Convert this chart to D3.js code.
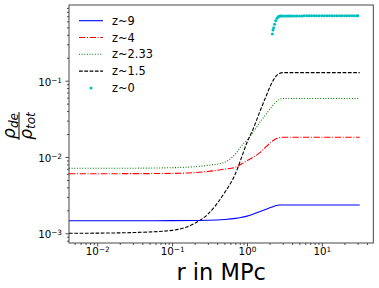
<!DOCTYPE html>
<html><head><meta charset="utf-8">
<script src="https://cdn.jsdelivr.net/npm/d3@7"></script>
<style>body{margin:0;background:#fff} svg{display:block}</style>
</head><body><svg id="c" width="379" height="288"></svg>
<script>
// ---- data ----
const rGrid   = [0.0042, 0.01, 0.03, 0.1, 0.2, 0.3, 0.5, 0.7, 0.85, 1.0, 1.2, 1.5, 1.8, 2.1, 2.4, 2.7, 3.0, 5, 10, 20, 32];
const rhoZ9   = [1.462e-3, 1.462e-3, 1.462e-3, 1.466e-3, 1.472e-3, 1.479e-3, 1.514e-3, 1.567e-3, 1.622e-3, 1.679e-3, 1.778e-3, 1.928e-3, 2.065e-3, 2.188e-3, 2.291e-3, 2.344e-3, 2.35e-3, 2.35e-3, 2.35e-3, 2.35e-3, 2.35e-3];
const rhoZ4   = [6.04e-3, 6.04e-3, 6.05e-3, 6.10e-3, 6.24e-3, 6.46e-3, 6.92e-3, 7.33e-3, 8.13e-3, 8.91e-3, 9.89e-3, 1.148e-2, 1.365e-2, 1.567e-2, 1.718e-2, 1.795e-2, 1.811e-2, 1.811e-2, 1.811e-2, 1.811e-2, 1.811e-2];
const rhoZ233 = [7.11e-3, 7.11e-3, 7.13e-3, 7.24e-3, 7.46e-3, 7.76e-3, 8.51e-3, 1.096e-2, 1.413e-2, 1.660e-2, 2.089e-2, 2.884e-2, 3.631e-2, 4.467e-2, 5.188e-2, 5.689e-2, 5.848e-2, 5.848e-2, 5.848e-2, 5.848e-2, 5.848e-2];
const rhoZ15  = [1.0e-3, 1.005e-3, 1.023e-3, 1.091e-3, 1.349e-3, 1.778e-3, 3.388e-3, 6.026e-3, 1.0e-2, 1.549e-2, 2.291e-2, 4.036e-2, 6.266e-2, 8.954e-2, 0.1122, 0.1245, 0.1274, 0.1274, 0.1274, 0.1274, 0.1274];
const rZ0     = [2.183, 2.223, 2.270, 2.339, 2.415, 2.512, 2.600, 2.673, 2.773, 2.877,
                 3.0, 3.2, 3.4, 3.6, 3.8, 4.0, 4.3, 4.6, 5.0, 5.4, 5.8, 6.3, 6.8, 7.3, 7.9, 8.5, 9.2, 10, 10.8, 11.7,
                 12.6, 13.6, 14.7, 15.9, 17.2, 18.6, 20.1, 21.7, 23.4, 25.3, 27.3, 29.5, 30.2];
const rhoZ0   = [0.409, 0.461, 0.495, 0.548, 0.611, 0.658, 0.684, 0.698, 0.703, 0.706,
                 0.707, 0.707, 0.707, 0.707, 0.707, 0.707, 0.707, 0.707, 0.707, 0.707,
                 0.709, 0.709, 0.709, 0.709, 0.709, 0.709, 0.709, 0.709, 0.709, 0.709,
                 0.710, 0.710, 0.710, 0.710, 0.710, 0.710, 0.710, 0.710, 0.710, 0.710,
                 0.711, 0.711, 0.711];
const seriesLabels = ["z~9", "z~4", "z~2.33", "z~1.5", "z~0"];
const xTicks = [1e-2, 1e-1, 1e0, 1e1];
const xTickExp = ["\u22122", "\u22121", "0", "1"];
const yTicks = [1e-3, 1e-2, 1e-1];
const yTickExp = ["\u22123", "\u22122", "\u22121"];
const xDomain = [0.0042, 48.6];
const yDomain = [7.46e-4, 0.982];

// ---- layout ----
const W = 379, H = 288;
const m = {l: 69, r: 5.7, t: 5, b: 45};
const svg = d3.select("#c");
const x = d3.scaleLog().domain(xDomain).range([m.l, W - m.r]);
const y = d3.scaleLog().domain(yDomain).range([H - m.b, m.t]);
const font = "DejaVu Sans";

svg.append("defs").append("clipPath").attr("id", "clip")
  .append("rect").attr("x", m.l).attr("y", m.t).attr("width", W - m.r - m.l).attr("height", H - m.b - m.t);

const styles = [
  {color: "#0000ff", dash: null, data: rhoZ9},
  {color: "#ff0000", dash: "6.4,1.6,1,1.6", data: rhoZ4},
  {color: "#008000", dash: "1,1.65", data: rhoZ233},
  {color: "#000000", dash: "3.7,1.6", data: rhoZ15}
];
const line = d3.line().x(d => x(d[0])).y(d => y(d[1])).curve(d3.curveMonotoneX);
const plot = svg.append("g").attr("clip-path", "url(#clip)");
styles.forEach(s => {
  plot.append("path").datum(rGrid.map((r, i) => [r, s.data[i]]))
    .attr("d", line).attr("fill", "none").attr("stroke", s.color)
    .attr("stroke-width", 1.1).attr("stroke-dasharray", s.dash);
});
plot.selectAll("circle.z0").data(rZ0.map((r, i) => [r, rhoZ0[i]])).enter()
  .append("circle").attr("class", "z0")
  .attr("cx", d => x(d[0])).attr("cy", d => y(d[1])).attr("r", 1.5).attr("fill", "#00bfbf");

// ---- axes ----
function minorTicks(domain) {
  const out = [];
  for (let e = -4; e <= 2; e++) for (let k = 2; k <= 9; k++) {
    const v = k * Math.pow(10, e);
    if (v >= domain[0] && v <= domain[1]) out.push(v);
  }
  return out;
}
const axStyle = g => { g.select(".domain").remove(); g.selectAll("line").attr("stroke", "#222").attr("stroke-width", 0.8); };
svg.append("g").attr("transform", `translate(0,${H - m.b})`)
  .call(d3.axisBottom(x).tickValues(minorTicks(xDomain)).tickSize(2).tickFormat("")).call(axStyle);
svg.append("g").attr("transform", `translate(${m.l},0)`)
  .call(d3.axisLeft(y).tickValues(minorTicks(yDomain)).tickSize(2).tickFormat("")).call(axStyle);

const gx = svg.append("g").attr("transform", `translate(0,${H - m.b})`)
  .call(d3.axisBottom(x).tickValues(xTicks).tickSize(3.5).tickPadding(3.5).tickFormat(() => "")).call(axStyle);
gx.selectAll(".tick text").each(function(d, i) {
  const t = d3.select(this).attr("font-family", font).attr("font-size", 10.3).attr("fill", "#000").attr("dy", "0.5em");
  t.append("tspan").text("10");
  t.append("tspan").attr("dy", "-0.45em").attr("font-size", 7.3).text(xTickExp[i]);
});
const gy = svg.append("g").attr("transform", `translate(${m.l},0)`)
  .call(d3.axisLeft(y).tickValues(yTicks).tickSize(3.5).tickPadding(3.5).tickFormat(() => "")).call(axStyle);
gy.selectAll(".tick text").each(function(d, i) {
  const t = d3.select(this).attr("font-family", font).attr("font-size", 10.3).attr("fill", "#000").attr("dy", "0.45em");
  t.append("tspan").text("10");
  t.append("tspan").attr("dy", "-0.45em").attr("font-size", 7.3).text(yTickExp[i]);
});

// frame
svg.append("rect").attr("x", m.l).attr("y", m.t).attr("width", W - m.r - m.l).attr("height", H - m.b - m.t)
  .attr("fill", "none").attr("stroke", "#333").attr("stroke-width", 0.9);

// ---- labels ----
svg.append("text").attr("x", (m.l + W - m.r) / 2).attr("y", 280).attr("text-anchor", "middle")
  .attr("font-family", font).attr("font-size", 22.5).attr("fill", "#000").text("r in MPc");

const yl = svg.append("g").attr("transform", "translate(19,126) rotate(-90)")
  .attr("font-family", font).attr("fill", "#000");
const num = yl.append("text").attr("x", 0).attr("y", -4.5).attr("text-anchor", "middle").attr("font-size", 17).attr("font-style", "italic");
num.append("tspan").text("ρ");
num.append("tspan").attr("dy", 3).attr("font-size", 12).text("de");
const den = yl.append("text").attr("x", 0).attr("y", 12.5).attr("text-anchor", "middle").attr("font-size", 17).attr("font-style", "italic");
den.append("tspan").text("ρ");
den.append("tspan").attr("dy", 3).attr("font-size", 12).text("tot");
yl.append("line").attr("x1", -14).attr("x2", 14).attr("y1", 0).attr("y2", 0).attr("stroke", "#000").attr("stroke-width", 1);

// ---- legend ----
const leg = svg.append("g").attr("font-family", font).attr("font-size", 11.4);
seriesLabels.forEach((lab, i) => {
  const yy = 20.7 + i * 16.8;
  if (i < 4) {
    leg.append("line").attr("x1", 79).attr("x2", 103).attr("y1", yy).attr("y2", yy)
      .attr("stroke", styles[i].color).attr("stroke-width", 1.1).attr("stroke-dasharray", styles[i].dash);
  } else {
    leg.append("circle").attr("cx", 91).attr("cy", yy).attr("r", 1.5).attr("fill", "#00bfbf");
  }
  leg.append("text").attr("x", 112).attr("y", yy).attr("dy", "0.36em").attr("fill", "#000").text(lab);
});
</script></body></html>
